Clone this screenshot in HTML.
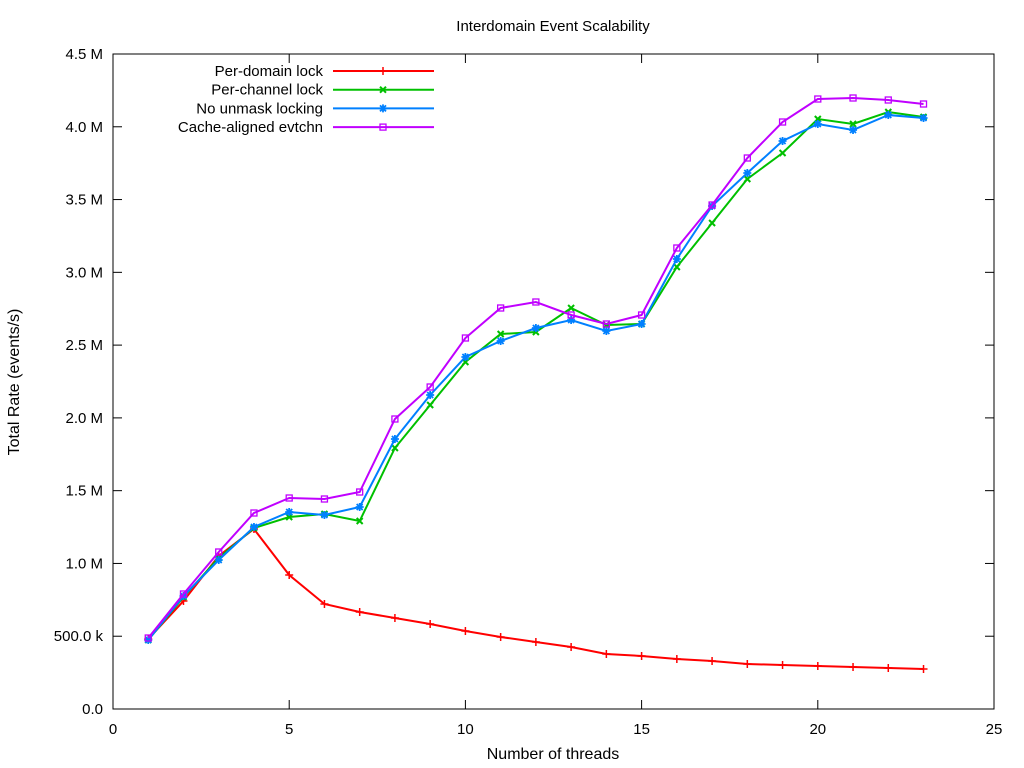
<!DOCTYPE html>
<html><head><meta charset="utf-8"><style>
body{margin:0;background:#fff}
svg{display:block;font-family:"Liberation Sans",sans-serif}
</style></head><body>
<svg id="s" width="1024" height="768" xmlns="http://www.w3.org/2000/svg">
<rect x="0" y="0" width="1024" height="768" fill="#fff"/>
<text x="553" y="31" font-size="15" text-anchor="middle">Interdomain Event Scalability</text>
<text x="553" y="759" font-size="16" text-anchor="middle">Number of threads</text>
<text transform="translate(19,382) rotate(-90)" font-size="16" text-anchor="middle">Total Rate (events/s)</text>
<g id="ax"></g>
<g id="ser"></g>
</svg>
<script>
const NS="http://www.w3.org/2000/svg";
const ax=document.getElementById('ax'),ser=document.getElementById('ser');
function el(p,t,a,txt){const e=document.createElementNS(NS,t);for(const k in a)e.setAttribute(k,a[k]);if(txt!==undefined)e.textContent=txt;p.appendChild(e);return e;}
const X0=113,X1=994,Y0=709,Y1=54;
const xp=n=>X0+(X1-X0)*n/25;
el(ax,'rect',{x:X0,y:Y1,width:X1-X0,height:Y0-Y1,fill:'none',stroke:'#000','stroke-width':1});
const yl=['0.0','500.0 k','1.0 M','1.5 M','2.0 M','2.5 M','3.0 M','3.5 M','4.0 M','4.5 M'];
for(let i=0;i<10;i++){const y=Y0-(Y0-Y1)*i/9;
el(ax,'line',{x1:X0,x2:X0+9,y1:y,y2:y,stroke:'#000'});el(ax,'line',{x1:X1,x2:X1-9,y1:y,y2:y,stroke:'#000'});
el(ax,'text',{x:103,y:y+5,'font-size':15,'text-anchor':'end'},yl[i]);}
for(let i=0;i<=5;i++){const x=xp(i*5);
el(ax,'line',{x1:x,x2:x,y1:Y0,y2:Y0-9,stroke:'#000'});el(ax,'line',{x1:x,x2:x,y1:Y1,y2:Y1+9,stroke:'#000'});
el(ax,'text',{x:x,y:734,'font-size':15,'text-anchor':'middle'},String(i*5));}
const S=[
['Per-domain lock','#ff0000','+',[639,601,556,529,575,604,612,618,624,631,637,642,647,654,656,659,661,664,665,666,667,668,669]],
['Per-channel lock','#00c000','x',[640,597,558,528,517,514,521,448,405,362,334,332,308,325,324,267,223,179,153,119,124,112,117]],
['No unmask locking','#0080ff','*',[640,596,560,527,512,515,507,439,395,357,341,328,320,331,324,259,206,173,141,124,130,115,118]],
['Cache-aligned evtchn','#c000ff','s',[638,594,552,513,498,499,492,419,387,338,308,302,315,324,315,248,205,158,122,99,98,100,104]]];
function mark(g,m,x,y,c){
 if(m=='+'){el(g,'path',{d:`M${x-4} ${y}h8M${x} ${y-4}v8`,stroke:c,'stroke-width':1.5});}
 else if(m=='x'){el(g,'path',{d:`M${x-3} ${y-3}l6 6M${x-3} ${y+3}l6 -6`,stroke:c,'stroke-width':2});}
 else if(m=='*'){el(g,'path',{d:`M${x-3} ${y-3}l6 6M${x-3} ${y+3}l6 -6M${x-4} ${y}h8M${x} ${y-4}v8`,stroke:c,'stroke-width':1.8});}
 else {el(g,'rect',{x:x-3,y:y-3,width:6,height:6,fill:'none',stroke:c,'stroke-width':1.3});}
}
S.forEach((s,i)=>{
 const pts=s[3].map((y,k)=>xp(k+1)+','+y).join(' ');
 el(ser,'polyline',{points:pts,fill:'none',stroke:s[1],'stroke-width':2});
 s[3].forEach((y,k)=>mark(ser,s[2],xp(k+1),y,s[1]));
 const ly=71+i*18.7;
 el(ser,'text',{x:323,y:ly+5,'font-size':15,'text-anchor':'end'},s[0]);
 el(ser,'line',{x1:333,x2:434,y1:ly,y2:ly,stroke:s[1],'stroke-width':2});
 mark(ser,s[2],383,ly,s[1]);
});
</script>
</body></html>
